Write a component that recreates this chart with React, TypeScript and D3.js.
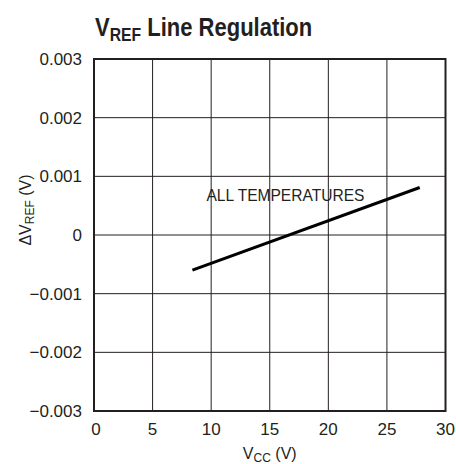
import React from "react";
import * as d3 from "d3";

const xTicks = [0, 5, 10, 15, 20, 25, 30];
const yTicks = [-0.003, -0.002, -0.001, 0, 0.001, 0.002, 0.003];
const yTickLabels = ["\u22120.003", "\u22120.002", "\u22120.001", "0", "0.001", "0.002", "0.003"];
const vcc = [8.4, 27.8];
const dVref = [-0.0006, 0.00081];
const curveLabel = "ALL TEMPERATURES";
const curveLabelPos = [9.6, 0.00058];

const W = 456;
const H = 464;
const left = 94;
const right = 445.5;
const top = 59;
const bottom = 411;

const FONT = "'Liberation Sans', Arial, Helvetica, sans-serif";

export default function App() {
  const x = d3.scaleLinear().domain([0, 30]).range([left, right]);
  const y = d3.scaleLinear().domain([-0.003, 0.003]).range([bottom, top]);
  const pts: [number, number][] = vcc.map((v, i) => [v, dVref[i]]);
  const line = d3
    .line<[number, number]>()
    .x((d) => x(d[0]))
    .y((d) => y(d[1]));

  return (
    <svg
      width={W}
      height={H}
      style={{ position: "absolute", left: 0, top: 0, background: "#fff" }}
      fontFamily={FONT}
    >
      <rect x={0} y={0} width={W} height={H} fill="#fff" />
      {/* title */}
      <g transform="translate(95,36) scale(0.83,1)">
        <text x={0} y={0} fontWeight="bold" fill="#231f20" fontSize={26.5}>
          <tspan>V</tspan>
          <tspan fontSize={19} dy={5}>REF</tspan>
          <tspan dy={-5}> Line Regulation</tspan>
        </text>
      </g>

      {/* grid */}
      {xTicks.slice(1, -1).map((t) => (
        <line key={"gx" + t} x1={x(t)} x2={x(t)} y1={top} y2={bottom} stroke="#231f20" strokeWidth={1} />
      ))}
      {yTicks.slice(1, -1).map((t) => (
        <line key={"gy" + t} x1={left} x2={right} y1={y(t)} y2={y(t)} stroke="#231f20" strokeWidth={1} />
      ))}
      <rect x={left} y={top} width={right - left} height={bottom - top} fill="none" stroke="#231f20" strokeWidth={2} />

      {/* curve */}
      <path d={line(pts) || ""} fill="none" stroke="#000" strokeWidth={3} />
      <text
        x={x(curveLabelPos[0])}
        y={y(curveLabelPos[1])}
        fontSize={16.5}
        fill="#231f20"
        textLength={158}
        lengthAdjust="spacingAndGlyphs"
      >
        {curveLabel}
      </text>

      {/* y tick labels */}
      {yTicks.map((t, i) => (
        <text key={"yl" + t} x={82} y={y(t) + 6} fontSize={17} textAnchor="end" fill="#231f20">
          {yTickLabels[i]}
        </text>
      ))}
      {/* x tick labels */}
      {xTicks.map((t) => (
        <text key={"xl" + t} x={x(t) + (t === 0 ? 2 : 0)} y={435} fontSize={17} textAnchor="middle" fill="#231f20">
          {String(t)}
        </text>
      ))}

      {/* x axis title */}
      <text x={(left + right) / 2} y={459} fontSize={16} textAnchor="middle" fill="#231f20">
        <tspan>V</tspan>
        <tspan fontSize={12} dy={3}>CC</tspan>
        <tspan dy={-3}> (V)</tspan>
      </text>

      {/* y axis title */}
      <text
        transform={`translate(31, 210) rotate(-90)`}
        fontSize={16}
        textAnchor="middle"
        fill="#231f20"
      >
        <tspan>{"\u0394V"}</tspan>
        <tspan fontSize={12} dy={3}>REF</tspan>
        <tspan dy={-3}> (V)</tspan>
      </text>
    </svg>
  );
}
